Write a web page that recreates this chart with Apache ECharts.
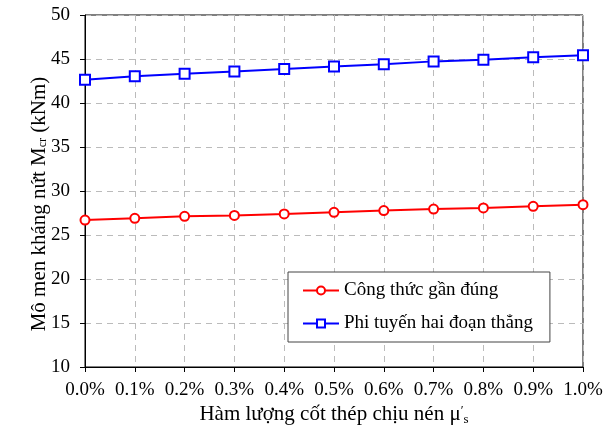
<!DOCTYPE html>
<html><head><meta charset="utf-8">
<script src="https://cdn.jsdelivr.net/npm/echarts@6/dist/echarts.min.js"></script>
<style>html,body{margin:0;padding:0;background:#fff}#c{width:612px;height:433px}</style>
</head><body><div id="c"></div>
<script>
var categories = ['0.0%','0.1%','0.2%','0.3%','0.4%','0.5%','0.6%','0.7%','0.8%','0.9%','1.0%'];
var congThuc = [26.70,26.89,27.12,27.23,27.39,27.58,27.77,27.95,28.07,28.26,28.45];
var phiTuyen = [42.65,43.04,43.31,43.59,43.86,44.14,44.41,44.73,44.92,45.20,45.43];
var seriesNames = ['Công thức gần đúng','Phi tuyến hai đoạn thẳng'];

var font = '"Liberation Serif", "Times New Roman", serif';
var chart = echarts.init(document.getElementById('c'));
chart.setOption({
  animation: false,
  textStyle: {fontFamily: font},
  grid: {left: 85, right: 29, top: 15, bottom: 66, show: true, borderColor: '#000', borderWidth: 1},
  legend: {
    orient: 'vertical', left: 288, top: 272,
    backgroundColor: '#fff', borderColor: '#444', borderWidth: 1,
    padding: [9, 17, 9, 14], itemGap: 14, itemWidth: 36, itemHeight: 10,
    textStyle: {fontFamily: font, fontSize: 19, color: '#000'},
    data: seriesNames
  },
  xAxis: {
    type: 'category', data: categories, boundaryGap: false,
    axisLine: {lineStyle: {color: '#000'}},
    axisTick: {show: true, length: 5, lineStyle: {color: '#000'}},
    axisLabel: {color: '#000', fontSize: 19, margin: 14, fontFamily: font, interval: 0},
    splitLine: {show: true, lineStyle: {color: '#bbb', type: [6, 5]}},
    name: 'Hàm lượng cốt thép chịu nén μ{sup|′}{sub|s}',
    nameLocation: 'middle', nameGap: 36, nameMoveOverlap: false,
    nameTextStyle: {color: '#000', fontSize: 21, fontFamily: font,
      rich: {sup: {fontSize: 13, fontFamily: font, color: '#000', padding: [0,0,8,0]},
             sub: {fontSize: 13, fontFamily: font, color: '#000', padding: [10,0,0,0]}}}
  },
  yAxis: {
    type: 'value', min: 10, max: 50, interval: 5,
    axisLine: {show: true, lineStyle: {color: '#000'}},
    axisTick: {show: true, length: 5, lineStyle: {color: '#000'}},
    axisLabel: {color: '#000', fontSize: 19, margin: 15, fontFamily: font},
    splitLine: {show: true, lineStyle: {color: '#bbb', type: [6, 5]}},
    name: 'Mô men kháng nứt M{sub|cr} (kNm)',
    nameLocation: 'middle', nameGap: 35, nameRotate: 90, nameMoveOverlap: false,
    nameTextStyle: {color: '#000', fontSize: 21, fontFamily: font, padding: [0, 26, 0, 0],
      rich: {sub: {fontSize: 12, fontFamily: font, color: '#000', padding: [6,0,0,0]}}}
  },
  series: [
    {name: seriesNames[0], type: 'line', data: congThuc, symbol: 'circle', symbolSize: 9,
     lineStyle: {color: '#ff0000', width: 2},
     itemStyle: {color: '#fff', borderColor: '#ff0000', borderWidth: 2}},
    {name: seriesNames[1], type: 'line', data: phiTuyen, symbol: 'rect', symbolSize: 10,
     lineStyle: {color: '#0000ff', width: 2},
     itemStyle: {color: '#fff', borderColor: '#0000ff', borderWidth: 2}}
  ]
});
</script></body></html>
